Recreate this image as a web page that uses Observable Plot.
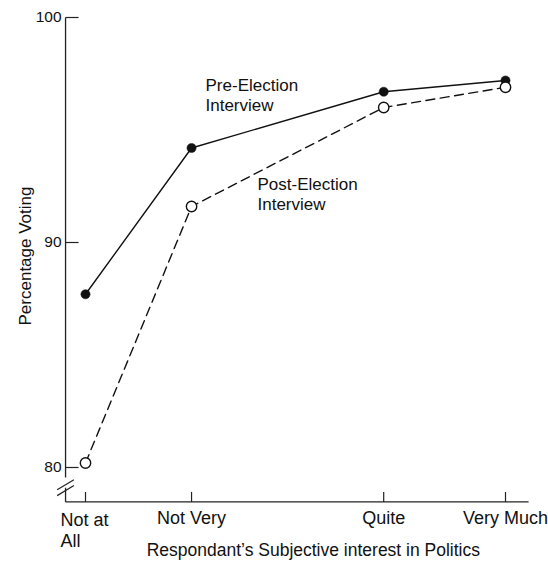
<!DOCTYPE html>
<html>
<head>
<meta charset="utf-8">
<script src="https://cdn.jsdelivr.net/npm/d3@7"></script>
<script src="https://cdn.jsdelivr.net/npm/@observablehq/plot@0.6"></script>
<style>
  html, body { margin: 0; padding: 0; background: #fff; }
  #chart svg { display: block; }
</style>
</head>
<body>
<div id="chart"></div>
<script>
// ---- data ----
const categories = ["Not at All", "Not Very", "Quite", "Very Much"];
const tickLabels = ["Not at\nAll", "Not Very", "Quite", "Very Much"];
const interestPos = [0, 1.01, 2.84, 4];          // position on the interest scale
const preElection = [87.7, 94.2, 96.7, 97.2];
const postElection = [80.2, 91.6, 96.0, 96.9];
const yTicks = [80, 90, 100];

const pre = categories.map((c, i) => ({c, x: interestPos[i], y: preElection[i]}));
const post = categories.map((c, i) => ({c, x: interestPos[i], y: postElection[i]}));
const xTickData = categories.map((c, i) => ({x: interestPos[i], label: tickLabels[i]}));

// axis geometry (data units)
const axX = -0.19, baseY = 78.47, xEnd = 4.22;
const breakTop = 79.56, breakBot = 79.1;

const font = "'Liberation Sans', Arial, Helvetica, sans-serif";

const chart = Plot.plot({
  width: 548,
  height: 562,
  margin: 0,
  style: {background: "#fff", fontFamily: font, color: "#111"},
  x: {domain: [0, 4], range: [85, 505], axis: null},
  y: {domain: [80, 100], range: [467, 17], axis: null},
  marks: [
    // y axis line (with break)
    Plot.link([0], {x1: axX, x2: axX, y1: 100, y2: breakTop, stroke: "#222", strokeWidth: 1.3}),
    Plot.link([0], {x1: axX, x2: axX, y1: breakBot, y2: baseY, stroke: "#222", strokeWidth: 1.3}),
    // break slashes
    Plot.link([0, 1], {x1: axX - 0.08, x2: axX + 0.08, y1: d => breakTop - 0.55 - d * 0.26, y2: d => breakTop - 0.1 - d * 0.26, stroke: "#222", strokeWidth: 1.2}),
    // x axis line
    Plot.link([0], {x1: axX, x2: xEnd, y1: baseY, y2: baseY, stroke: "#222", strokeWidth: 1.3}),
    // y ticks (inward)
    Plot.link(yTicks, {x1: axX, x2: axX + 13 / 105, y1: d => d, y2: d => d, stroke: "#222", strokeWidth: 1.2}),
    // x ticks (inward)
    Plot.link(xTickData, {x1: "x", x2: "x", y1: baseY, y2: baseY + 10 / 22.5, stroke: "#222", strokeWidth: 1.2}),
    // y tick labels
    Plot.text(yTicks, {x: axX, y: d => d, text: d => String(d), textAnchor: "end", dx: -4, fontSize: 15.5, fill: "#111"}),
    // x tick labels
    Plot.text(xTickData.slice(0, 1), {x: "x", y: baseY, text: "label", textAnchor: "start", lineAnchor: "top", dx: -25, dy: 9, fontSize: 18, lineHeight: 1.17, fill: "#111"}),
    Plot.text(xTickData.slice(1), {x: "x", y: baseY, text: "label", textAnchor: "middle", lineAnchor: "top", dy: 9, fontSize: 18, fill: "#111"}),
    // axis titles
    Plot.text(["Respondant\u2019s Subjective interest in Politics"], {x: 2.17, y: baseY, text: d => d, lineAnchor: "top", dy: 42, fontSize: 17.5, letterSpacing: "0.2px", fill: "#111"}),
    Plot.text(["Percentage Voting"], {x: axX, y: 89.4, text: d => d, rotate: -90, dx: -40, fontSize: 17, fill: "#111"}),
    // lines
    Plot.line(pre, {x: "x", y: "y", stroke: "#111", strokeWidth: 1.4}),
    Plot.line(post, {x: "x", y: "y", stroke: "#111", strokeWidth: 1.4, strokeDasharray: "9,5.5"}),
    // points
    Plot.dot(pre, {x: "x", y: "y", r: 4.6, fill: "#111", stroke: "#111", strokeWidth: 0.5}),
    Plot.dot(post, {x: "x", y: "y", r: 5.2, fill: "#fff", stroke: "#111", strokeWidth: 1.4}),
    // annotations
    Plot.text(["Pre-Election\nInterview"], {x: 1.143, y: 96.84, text: d => d, textAnchor: "start", lineAnchor: "top", dy: -12, fontSize: 17, lineHeight: 1.18, fill: "#111"}),
    Plot.text(["Post-Election\nInterview"], {x: 1.638, y: 92.44, text: d => d, textAnchor: "start", lineAnchor: "top", dy: -12, fontSize: 17, lineHeight: 1.18, fill: "#111"})
  ]
});
document.getElementById("chart").appendChild(chart);
</script>
</body>
</html>
